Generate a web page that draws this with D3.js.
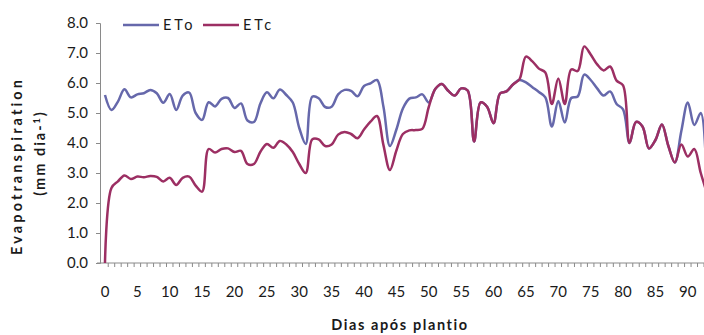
<!DOCTYPE html>
<html>
<head>
<meta charset="utf-8">
<script src="https://cdn.jsdelivr.net/npm/d3@7/dist/d3.min.js"></script>
<style>
  html, body { margin: 0; padding: 0; background: #fff; }
  svg { display: block; }
  text { font-family: Lato, "Open Sans", sans-serif; fill: #1a1a1a; }
</style>
</head>
<body>
<svg id="chart" width="704" height="335"></svg>
<script>
// Days after planting (0 .. 93)
const days = d3.range(0, 94);

// Reference evapotranspiration, mm/day
const eto = [
  5.60, 5.10, 5.38, 5.79, 5.52, 5.62, 5.66, 5.77, 5.66, 5.34,
  5.63, 5.10, 5.58, 5.68, 5.00, 4.77, 5.36, 5.22, 5.47, 5.50,
  5.17, 5.32, 4.75, 4.70, 5.32, 5.69, 5.49, 5.78, 5.60, 5.35,
  4.50, 3.97, 5.54, 5.49, 5.20, 5.21, 5.62, 5.77, 5.74, 5.56,
  5.90, 5.99, 6.10, 5.21, 3.90, 4.45, 5.15, 5.48, 5.52, 5.62,
  5.35, 5.80, 5.97, 5.74, 5.58, 5.82, 5.75, 4.05, 5.35, 5.21,
  4.66, 5.65, 5.72, 5.95, 6.10, 6.02, 5.86, 5.70, 5.52, 4.55,
  5.40, 4.68, 5.50, 5.55, 6.28, 6.10, 5.82, 5.58, 5.72, 5.30,
  5.12, 4.00, 4.70, 4.55, 3.82, 4.10, 4.62, 3.90, 3.35, 4.40,
  5.35, 4.60, 5.00, 2.00
];

// Crop evapotranspiration, mm/day
const etc = [
  0.00, 2.50, 2.72, 2.92, 2.80, 2.88, 2.86, 2.90, 2.87, 2.72,
  2.84, 2.60, 2.84, 2.88, 2.58, 2.38, 3.80, 3.68, 3.80, 3.82,
  3.70, 3.74, 3.30, 3.30, 3.71, 3.97, 3.84, 4.07, 3.95, 3.70,
  3.30, 3.00, 4.12, 4.12, 3.90, 3.95, 4.28, 4.37, 4.30, 4.16,
  4.45, 4.71, 4.90, 3.93, 3.10, 3.75, 4.30, 4.42, 4.43, 4.47,
  5.20, 5.80, 5.97, 5.74, 5.58, 5.82, 5.75, 4.05, 5.35, 5.21,
  4.66, 5.65, 5.72, 5.95, 6.12, 6.88, 6.72, 6.48, 6.35, 5.30,
  6.15, 5.30, 6.45, 6.40, 7.22, 6.95, 6.62, 6.42, 6.55, 6.08,
  5.92, 4.00, 4.70, 4.55, 3.82, 4.10, 4.62, 3.90, 3.35, 3.95,
  3.55, 3.80, 3.00, 2.30
];

const yTicks = [0, 1, 2, 3, 4, 5, 6, 7, 8];
const xLabelDays = d3.range(0, 91, 5);

const series = [
  { name: "ETo", values: eto, color: "#6668AB" },
  { name: "ETc", values: etc, color: "#9C2F63" }
];

const svg = d3.select("#chart");
const W = 704, H = 335;
const plotLeft = 100, plotTop = 23, plotBottom = 263;

const x = d3.scaleLinear().domain([-0.77, 92.5]).range([plotLeft, W]);
const y = d3.scaleLinear().domain([0, 8]).range([plotBottom, plotTop]);

const axisColor = "#8a8a8a";

// Clip so series stop at the right edge of the plot
svg.append("defs").append("clipPath").attr("id", "plotclip")
  .append("rect").attr("x", plotLeft).attr("y", 0)
  .attr("width", W - plotLeft).attr("height", plotBottom + 2);

// Y axis
const yAxis = d3.axisLeft(y).tickValues(yTicks).tickSize(4).tickPadding(8)
  .tickFormat(d3.format(".1f"));
const gy = svg.append("g").attr("transform", `translate(${plotLeft},0)`).call(yAxis);
gy.select(".domain").attr("stroke", axisColor);
gy.selectAll(".tick line").attr("stroke", axisColor);
gy.selectAll(".tick text").style("font-size", "15px").attr("fill", "#1a1a1a")
  .style("font-family", "Lato, sans-serif");

// X axis: one small tick between each day, labels every 5 days
const gx = svg.append("g").attr("transform", `translate(0,${plotBottom})`);
gx.append("line").attr("x1", plotLeft - 3).attr("x2", W).attr("y1", 0).attr("y2", 0)
  .attr("stroke", axisColor);
gx.selectAll("line.tk").data(days).join("line").attr("class", "tk")
  .attr("x1", d => x(d + 0.5)).attr("x2", d => x(d + 0.5))
  .attr("y1", 0).attr("y2", 4).attr("stroke", axisColor);
gx.selectAll("text").data(xLabelDays).join("text")
  .attr("x", d => x(d)).attr("y", 34)
  .attr("text-anchor", "middle").style("font-size", "15px")
  .text(d => d);

// Lines
const line = d3.line()
  .x((d, i) => x(days[i]))
  .y(d => y(d))
  .curve(d3.curveCatmullRom.alpha(0.5));

const plot = svg.append("g").attr("clip-path", "url(#plotclip)");
plot.selectAll("path.series").data(series).join("path")
  .attr("class", "series")
  .attr("d", s => line(s.values))
  .attr("fill", "none")
  .attr("stroke", s => s.color)
  .attr("stroke-width", 2.5)
  .attr("stroke-linejoin", "round");

// Legend
const legend = svg.append("g").attr("transform", "translate(123,25)");
const lg = legend.selectAll("g").data(series).join("g")
  .attr("transform", (d, i) => `translate(${i * 80},0)`);
lg.append("line").attr("x1", 0).attr("x2", 36).attr("y1", 0).attr("y2", 0)
  .attr("stroke", d => d.color).attr("stroke-width", 2.5);
lg.append("text").attr("x", 40).attr("y", 5).style("font-size", "14.5px")
  .style("letter-spacing", "3px").text(d => d.name);

// Axis titles
svg.append("text")
  .attr("transform", "translate(22,166) rotate(-90)")
  .attr("text-anchor", "middle")
  .style("font-size", "14.5px").style("font-weight", "bold").style("letter-spacing", "3.1px")
  .text("Evapotranspiration");

const yt2 = svg.append("text")
  .attr("transform", "translate(45,153) rotate(-90)")
  .attr("text-anchor", "middle")
  .style("font-size", "14.5px").style("font-weight", "bold").style("letter-spacing", "2px");
yt2.append("tspan").text("(mm dia-");
yt2.append("tspan").attr("baseline-shift", "super").style("font-size", "9px").text("1");
yt2.append("tspan").text(")");

svg.append("text")
  .attr("x", 400).attr("y", 330)
  .attr("text-anchor", "middle")
  .style("font-size", "14.5px").style("font-weight", "bold").style("letter-spacing", "1.6px")
  .text("Dias após plantio");
</script>
</body>
</html>
